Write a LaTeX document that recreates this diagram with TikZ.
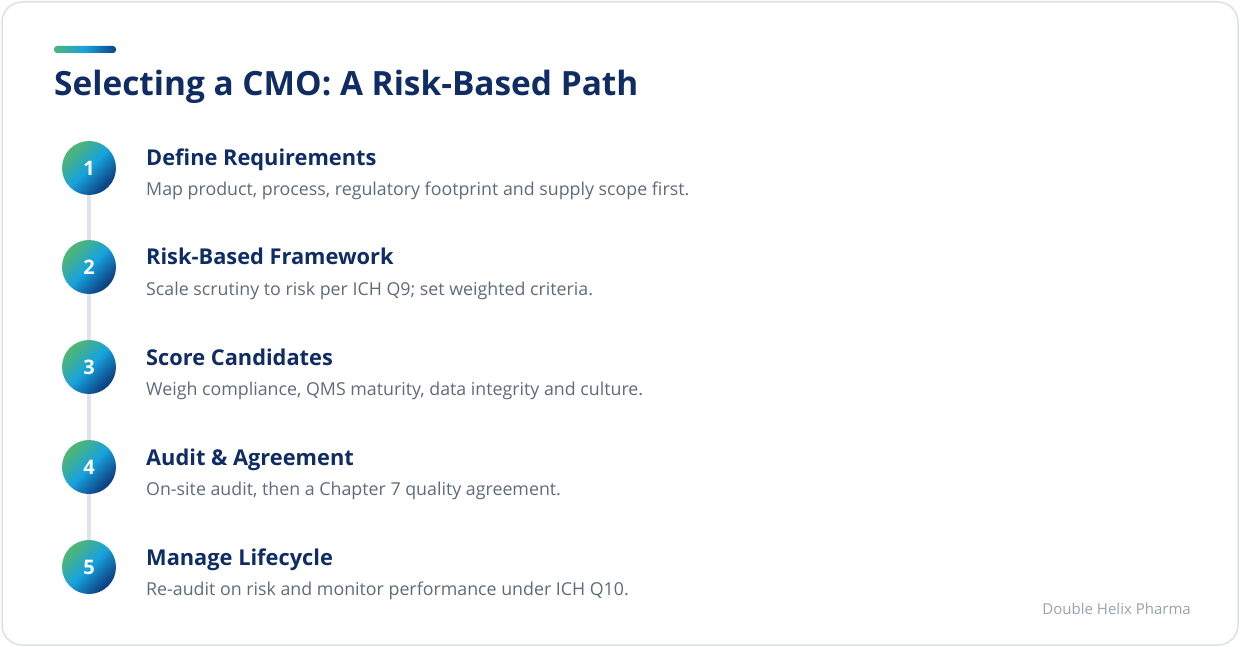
\documentclass[tikz,border=0pt]{standalone}
\usepackage{fontspec}
\setmainfont{Open Sans}
\usepackage{xcolor}

\definecolor{navy}{HTML}{0F2D64}
\definecolor{greytext}{HTML}{5F6B7A}
\definecolor{footgrey}{HTML}{9AA3AE}
\definecolor{cardline}{HTML}{DDE1E7}
\definecolor{railgrey}{HTML}{DFE4EB}
\definecolor{gradgreen}{HTML}{4DB47A}
\definecolor{gradblue}{HTML}{17A2DE}
\definecolor{gradnavy}{HTML}{0D4485}

% diagonal fill of the numbered dots
\pgfdeclareverticalshading{dotgrad}{100bp}{color(0bp)=(gradnavy); color(28bp)=(gradnavy);
  color(50bp)=(gradblue); color(72bp)=(gradgreen); color(100bp)=(gradgreen)}

\tikzset{
  stepdot/.style={circle, minimum size=54pt, inner sep=0pt,
    shading=dotgrad, shading angle=45, text=white,
    font=\fontsize{20}{24}\selectfont\bfseries},
  steptitle/.style={anchor=base west, inner sep=0pt, text=navy,
    font=\fontsize{21.8}{26}\selectfont\bfseries},
  stepnote/.style={anchor=base west, inner sep=0pt, text=greytext,
    font=\fontsize{17.8}{21}\selectfont}
}

\begin{document}
\begin{tikzpicture}[x=1pt, y=-1pt]

\useasboundingbox (0, 0) rectangle (1240, 647);

% card
\draw[fill=white, draw=cardline, line width=1.5pt, rounded corners=20pt]
  (2, 2) rectangle (1238, 645);

% accent bar
\shade[left color=gradgreen, right color=gradnavy, middle color=gradblue, rounded corners=3pt]
  (54, 46) rectangle (116, 53);

% heading
\node[anchor=base west, inner sep=0pt, text=navy, font=\fontsize{33.4}{40}\selectfont\bfseries]
  (heading) at (54, 96) {Selecting a CMO: A Risk-Based Path};

% rail behind the dots
\coordinate (railtop) at (89, 168);
\coordinate (railend) at (89, 567);
\draw[railgrey, line width=4pt] (railtop) -- (railend);

% steps
\node[stepdot] (dot1) at (89, 168) {1};
\node[stepdot] (dot2) at (89, 267) {2};
\node[stepdot] (dot3) at (89, 367) {3};
\node[stepdot] (dot4) at (89, 467) {4};
\node[stepdot] (dot5) at (89, 567) {5};

\node[steptitle] (title1) at (146, 166) {Define Requirements};
\node[stepnote] (note1) at (146, 196) {Map product, process, regulatory footprint and supply scope first.};

\node[steptitle] (title2) at (146, 265) {Risk-Based Framework};
\node[stepnote] (note2) at (146, 295) {Scale scrutiny to risk per ICH Q9; set weighted criteria.};

\node[steptitle] (title3) at (146, 365) {Score Candidates};
\node[stepnote] (note3) at (146, 395) {Weigh compliance, QMS maturity, data integrity and culture.};

\node[steptitle] (title4) at (146, 465) {Audit \& Agreement};
\node[stepnote] (note4) at (146, 495) {On-site audit, then a Chapter 7 quality agreement.};

\node[steptitle] (title5) at (146, 565) {Manage Lifecycle};
\node[stepnote] (note5) at (146, 595) {Re-audit on risk and monitor performance under ICH Q10.};

% footer
\node[anchor=base east, inner sep=0pt, text=footgrey, font=\fontsize{15}{18}\selectfont]
  (brand) at (1191, 614) {Double Helix Pharma};

\end{tikzpicture}
\end{document}
